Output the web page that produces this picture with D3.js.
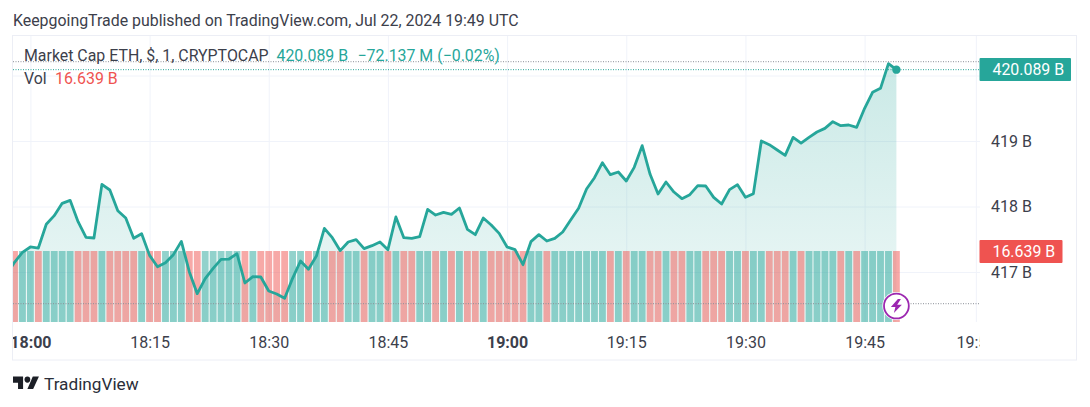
<!DOCTYPE html>
<html lang="en">

<head>
    <meta charset="UTF-8">
    <title>Market Cap ETH</title>
    <script src="https://d3js.org/d3.v7.min.js"></script>
    <style>
        body { margin: 0; background: #fff; }
        text { font-family: Roboto, sans-serif; }
        .grid line { stroke: #f0f3fa; stroke-width: 1px; }
        .grid path { display: none; }
        .axis path, .axis line { display: none; }
        .axis text { font-family: Roboto, sans-serif; font-size: 16px; fill: #3c404b; }
    </style>
</head>

<body>
    <div class="graph"></div>

    <script>
        // market cap in billions, one value a minute from 17:57 to 19:49
        var closes = [
            416.964, 417.148, 417.300, 417.382, 417.366, 417.728, 417.860, 418.048, 418.094, 417.768,
            417.529, 417.519, 418.338, 418.252, 417.936, 417.824, 417.514, 417.585, 417.254, 417.081,
            417.142, 417.265, 417.468, 417.005, 416.669, 416.898, 417.056, 417.193, 417.198, 417.280,
            416.832, 416.929, 416.924, 416.710, 416.664, 416.598, 416.903, 417.168, 417.041, 417.244,
            417.667, 417.524, 417.326, 417.458, 417.494, 417.356, 417.402, 417.458, 417.341, 417.840,
            417.524, 417.514, 417.539, 417.957, 417.870, 417.911, 417.880, 417.977, 417.651, 417.570,
            417.824, 417.718, 417.590, 417.382, 417.341, 417.112, 417.463, 417.570, 417.473, 417.514,
            417.611, 417.794, 417.972, 418.267, 418.440, 418.669, 418.486, 418.527, 418.389, 418.598,
            418.929, 418.491, 418.191, 418.374, 418.221, 418.120, 418.181, 418.318, 418.313, 418.140,
            418.038, 418.257, 418.333, 418.140, 418.196, 419.000, 418.944, 418.863, 418.781, 419.056,
            418.969, 419.056, 419.137, 419.193, 419.295, 419.234, 419.244, 419.209, 419.499, 419.743,
            419.804, 420.181, 420.089
        ];

        // volume bar colour per minute, T = teal (up), R = red (down)
        var volDirs = [
            "T",
            "R", "T", "T", "R", "T", "T", "T", "T", "R", "R",
            "R", "T", "R", "R", "R", "R", "T", "R", "R", "T",
            "T", "T", "R", "R", "T", "T", "T", "T", "T", "R",
            "T", "R", "R", "R", "R", "T", "T", "R", "T", "T",
            "R", "R", "T", "T", "R", "T", "T", "R", "T", "R",
            "R", "T", "T", "R", "T", "R", "T", "R", "R", "T",
            "R", "R", "R", "R", "R", "T", "T", "R", "T", "T",
            "T", "T", "T", "T", "T", "R", "T", "R", "T", "T",
            "R", "R", "T", "R", "R", "T", "T", "R", "R", "R",
            "T", "T", "R", "T", "T", "R", "R", "R", "T", "R",
            "T", "T", "T", "T", "R", "T", "R", "T", "T", "T",
            "T", "R"
        ];

        // every bar is the same height in the picture
        var volumeValue = 16.639;

        var timeTicks = ["18:00", "18:15", "18:30", "18:45", "19:00", "19:15", "19:30", "19:45", "19:59"];
        var priceTicks = [417, 418, 419];
        var priceGrid = [417, 418, 419, 420];

        var startTime = Date.UTC(2024, 6, 22, 17, 57);
        var minute = 60000;

        var plot = { left: 13, right: 980, top: 36, bottom: 322 };
        var teal = "#26a69a", red = "#ef5350";

        function timeOf(label) {
            var p = label.split(":");
            return new Date(Date.UTC(2024, 6, 22, +p[0], +p[1]));
        }

        var points = closes.map(function (d, i) {
            return { time: new Date(startTime + i * minute), close: d, dir: volDirs[i] };
        });

        var x = d3.scaleUtc()
            .domain([timeOf("18:00"), timeOf("19:49")])
            .range([30.4, 896.4]);

        var y = d3.scaleLinear()
            .domain([417, 419])
            .range([272, 141]);

        var yVol = d3.scaleLinear()
            .domain([0, volumeValue])
            .range([plot.bottom, 251]);

        var svg = d3.select(".graph")
            .append("svg")
            .attr("width", 1090)
            .attr("height", 407)
            .style("display", "block");

        var defs = svg.append("defs");

        defs.append("clipPath").attr("id", "clip")
            .append("rect")
            .attr("x", plot.left)
            .attr("y", plot.top)
            .attr("width", plot.right - plot.left)
            .attr("height", plot.bottom - plot.top);

        defs.append("clipPath").attr("id", "clipAxis")
            .append("rect")
            .attr("x", plot.left)
            .attr("y", plot.bottom)
            .attr("width", plot.right - plot.left)
            .attr("height", 38);

        var grad = defs.append("linearGradient").attr("id", "areaFill")
            .attr("gradientUnits", "userSpaceOnUse")
            .attr("x1", 0).attr("x2", 0)
            .attr("y1", y(420.089)).attr("y2", plot.bottom);
        grad.append("stop").attr("offset", 0).attr("stop-color", teal).attr("stop-opacity", 0.24);
        grad.append("stop").attr("offset", 1).attr("stop-color", teal).attr("stop-opacity", 0.08);

        // title
        svg.append("text")
            .attr("x", 13).attr("y", 25.5)
            .style("font-size", "15.9px")
            .attr("fill", "#3c404b")
            .text("KeepgoingTrade published on TradingView.com, Jul 22, 2024 19:49 UTC");

        // frame
        svg.append("rect")
            .attr("x", 12.5).attr("y", 35.5)
            .attr("width", 1064).attr("height", 324.5)
            .attr("fill", "none")
            .attr("stroke", "#eceef5");

        // grid
        svg.append("g")
            .attr("class", "grid")
            .attr("transform", "translate(0," + plot.bottom + ")")
            .call(d3.axisBottom(x)
                .tickValues(timeTicks.map(timeOf))
                .tickSize(plot.top - plot.bottom)
                .tickFormat(""));

        svg.append("g")
            .attr("class", "grid")
            .attr("transform", "translate(" + plot.right + ",0)")
            .call(d3.axisLeft(y)
                .tickValues(priceGrid)
                .tickSize(plot.right - plot.left)
                .tickFormat(""));

        var chart = svg.append("g").attr("clip-path", "url(#clip)");

        // area, runs down behind the volume bars
        var area = d3.area()
            .x(function (d) { return x(d.time); })
            .y0(plot.bottom)
            .y1(function (d) { return y(d.close); });

        chart.append("path")
            .datum(points)
            .attr("d", area)
            .attr("fill", "url(#areaFill)");

        // volume
        var barWidth = 6.8;
        chart.selectAll(".vol")
            .data(points)
            .enter()
            .append("rect")
            .attr("class", "vol")
            .attr("x", function (d) { return x(d.time) - barWidth / 2; })
            .attr("y", yVol(volumeValue))
            .attr("width", barWidth)
            .attr("height", yVol(0) - yVol(volumeValue))
            .attr("fill", function (d) { return d.dir == "T" ? teal : red; })
            .attr("fill-opacity", 0.5);

        // dotted last value lines
        [[61.7, "#8c8f98"], [y(420.089), teal], [303.7, "#8c8f98"]].forEach(function (l) {
            svg.append("line")
                .attr("x1", plot.left).attr("x2", plot.right)
                .attr("y1", l[0]).attr("y2", l[0])
                .attr("stroke", l[1])
                .attr("stroke-width", 1)
                .attr("stroke-dasharray", "1 1.5");
        });

        var line = d3.line()
            .x(function (d) { return x(d.time); })
            .y(function (d) { return y(d.close); });

        chart.append("path")
            .datum(points)
            .attr("d", line)
            .attr("fill", "none")
            .attr("stroke", teal)
            .attr("stroke-width", 2.8)
            .attr("stroke-linejoin", "round");

        var last = points[points.length - 1];
        chart.append("circle")
            .attr("cx", x(last.time))
            .attr("cy", y(last.close))
            .attr("r", 4.2)
            .attr("fill", teal);

        // lightning badge
        var badge = svg.append("g")
            .attr("transform", "translate(" + x(last.time) + ",306)");
        badge.append("circle").attr("r", 14).attr("fill", "#fff");
        badge.append("circle").attr("r", 12.4).attr("fill", "#fff")
            .attr("stroke", "#9c27b0").attr("stroke-width", 1.8);
        badge.append("path")
            .attr("d", "M1.5 -7 L-5.5 1 L-1 1 L-2.5 7 L5.5 -1.2 L0.8 -1.2 L4.5 -7 Z")
            .attr("fill", "#9c27b0");

        // time axis
        var xAxis = svg.append("g")
            .attr("class", "axis")
            .attr("clip-path", "url(#clipAxis)")
            .append("g")
            .attr("transform", "translate(0," + plot.bottom + ")")
            .call(d3.axisBottom(x)
                .tickValues(timeTicks.map(timeOf))
                .tickSizeOuter(0)
                .tickSize(0)
                .tickPadding(0)
                .tickFormat(d3.utcFormat("%H:%M")));

        xAxis.selectAll("text")
            .attr("y", 0)
            .attr("dy", "25.5px")
            .style("font-weight", function (d) { return d.getUTCMinutes() == 0 ? "700" : "400"; });

        // price axis
        var yAxis = svg.append("g")
            .attr("class", "axis")
            .attr("transform", "translate(980,0)")
            .call(d3.axisRight(y)
                .tickValues(priceTicks)
                .tickSize(0)
                .tickPadding(11)
                .tickFormat(function (d) { return d + " B"; }));

        // last value tags
        function tag(x0, x1, y0, y1, color, label) {
            svg.append("rect")
                .attr("x", x0).attr("y", y0)
                .attr("width", x1 - x0).attr("height", y1 - y0)
                .attr("rx", 1)
                .attr("fill", color);
            svg.append("text")
                .attr("x", x0 + 13)
                .attr("y", (y0 + y1) / 2 + 5.5)
                .attr("fill", "#fff")
                .style("font-size", "15.9px")
                .text(label);
        }
        tag(979.5, 1071, 58, 81, teal, "420.089 B");
        tag(979.5, 1062.5, 240, 263, red, "16.639 B");

        // legend
        function legend(xp, yp, color, label) {
            svg.append("text")
                .attr("x", xp).attr("y", yp)
                .attr("fill", color)
                .style("font-size", "15.9px")
                .text(label);
        }
        legend(24, 61, "#3c404b", "Market Cap ETH, $, 1, CRYPTOCAP");
        legend(276.5, 61, teal, "420.089 B");
        legend(357.5, 61, teal, "\u221272.137 M (\u22120.02%)");
        legend(24, 84, "#3c404b", "Vol");
        legend(55, 84, red, "16.639 B");

        // logo
        var logo = svg.append("g")
            .attr("transform", "translate(13,371.8) scale(0.72,0.78)")
            .attr("fill", "#1c1f26");
        logo.append("path").attr("d", "M14 6H0v8h7v8h7V6Z");
        logo.append("circle").attr("cx", 20).attr("cy", 10).attr("r", 4);
        logo.append("path").attr("d", "M28 22H20l7.5-16H36l-8 16Z");

        svg.append("text")
            .attr("x", 44).attr("y", 390)
            .attr("fill", "#2a2e39")
            .style("font-size", "17.2px")
            .text("TradingView");
    </script>
</body>

</html>
